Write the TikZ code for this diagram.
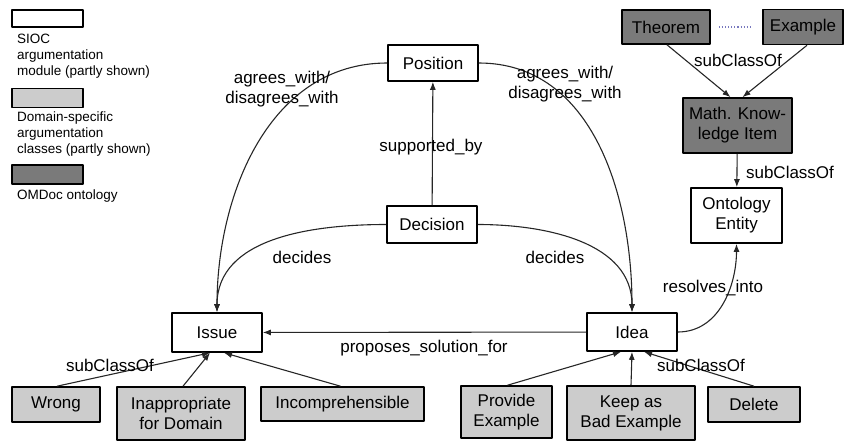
\documentclass[tikz,border=0pt]{standalone}
\usepackage{fontspec}
\setmainfont{Liberation Sans}
\usetikzlibrary{arrows.meta}
\definecolor{domgrey}{RGB}{204,204,204}
\definecolor{omdgrey}{RGB}{122,122,122}
\definecolor{dotblue}{RGB}{120,120,190}
\begin{document}
\begin{tikzpicture}[>={Latex[length=8pt, width=6pt]}, x=1pt, y=-1pt, line join=round,
    font=\fontsize{17}{20}\selectfont,
    sz/.style 2 args={minimum width=#1pt, minimum height=#2pt},
    box/.style={draw, line width=1.6pt, fill=white, align=center, inner sep=0pt},
    dom/.style={box, fill=domgrey},
    omd/.style={box, fill=omdgrey},
    rel/.style={draw=black!85, line width=1.1pt},
    lbl/.style={inner sep=0pt, align=center},
    legtxt/.style={inner sep=0pt, align=left, anchor=west, font=\fontsize{13.5}{16}\selectfont}]
    \useasboundingbox (0,0) rectangle (845,442);
    % legend
    \node[box, sz={71}{17}] (legsioc) at (47.5,18.5) {};
    \node[legtxt] (legsioctxt) at (17,56) {SIOC\\argumentation\\module (partly shown)};
    \node[dom, sz={71}{19}] (legdom) at (47.5,98) {};
    \node[legtxt] (legdomtxt) at (17,134) {Domain-specific\\argumentation\\classes (partly shown)};
    \node[omd, sz={71}{19}] (legomd) at (47.5,174.5) {};
    \node[legtxt] (legomdtxt) at (17,196) {OMDoc ontology};
    % argumentation classes
    \node[box, sz={90}{36}] (position) at (433,63) {Position};
    \node[box, sz={90}{37}] (decision) at (432,224.5) {Decision};
    \node[box, sz={90}{39}] (issue) at (217,332.5) {Issue};
    \node[box, sz={90}{38}] (idea) at (632,332) {Idea};
    % OMDoc classes
    \node[omd, sz={88}{34}] (theorem) at (666,27) {Theorem};
    \node[omd, sz={80}{35}] (example) at (803,27) {Example};
    \node[omd, sz={109}{55}] (mki) at (737.5,125.5) {Math. Know-\\ledge Item};
    \node[box, sz={91}{55}] (entity) at (736.5,215.5) {Ontology\\Entity};
    % domain-specific classes
    \node[dom, sz={88}{35}] (wrong) at (56,404.5) {Wrong};
    \node[dom, sz={128}{53}] (inapp) at (181,413.5) {Inappropriate\\for Domain};
    \node[dom, sz={163}{34}] (incomp) at (342.5,404) {Incomprehensible};
    \node[dom, sz={91}{52}] (provide) at (506.5,412) {Provide\\Example};
    \node[dom, sz={128}{54}] (keep) at (631,413) {Keep as\\Bad Example};
    \node[dom, sz={92}{35}] (delete) at (754,404.5) {Delete};
    % relations
    \draw[rel, ->] (decision) -- (position);
    \draw[rel, ->] (position.west) to[out=180, in=90] (issue.north);
    \draw[rel, ->] (position.east) to[out=0, in=90] (idea.north);
    \draw[rel, ->] (decision.west) to[out=180, in=90] (issue.north);
    \draw[rel, ->] (decision.east) to[out=0, in=90] (idea.north);
    \draw[rel, ->] (idea) -- (issue);
    \draw[rel, ->] (idea.east) to[out=0, in=-90] (entity.south);
    \draw[rel, dotted, draw=dotblue] ([xshift=8pt]theorem.east) -- ([xshift=-10pt]example.west);
    \draw[rel, ->] ([xshift=1pt]theorem.south) -- ([xshift=-7pt]mki.north);
    \draw[rel, ->] ([xshift=4pt]example.south) -- ([xshift=5pt]mki.north);
    \draw[rel, ->] (mki) -- (entity);
    \draw[rel, ->] ([xshift=1pt]wrong.north) -- ([xshift=-7pt]issue.south);
    \draw[rel, ->] ([xshift=2pt]inapp.north) -- ([xshift=-7pt]issue.south);
    \draw[rel, ->] ([xshift=-2pt]incomp.north) -- ([xshift=7pt]issue.south);
    \draw[rel, ->] ([xshift=1pt]provide.north) -- ([xshift=-11pt]idea.south);
    \draw[rel, ->] (keep.north) -- (idea.south);
    \draw[rel, ->] (delete.north) -- ([xshift=12pt]idea.south);
    % labels
    \node[lbl] (lblsup) at (431,147) {supported\_by};
    \node[lbl] (lblagl) at (282,89) {agrees\_with/\\disagrees\_with};
    \node[lbl] (lblagr) at (565,84) {agrees\_with/\\disagrees\_with};
    \node[lbl] (lbldecl) at (302,257) {decides};
    \node[lbl] (lbldecr) at (555,257) {decides};
    \node[lbl] (lblprop) at (424,348) {proposes\_solution\_for};
    \node[lbl] (lblres) at (713,288) {resolves\_into};
    \node[lbl] (lblsubt) at (738,60) {subClassOf};
    \node[lbl] (lblsubm) at (790,172) {subClassOf};
    \node[lbl] (lblsubi) at (110,365) {subClassOf};
    \node[lbl] (lblsubd) at (701,365) {subClassOf};
\end{tikzpicture}
\end{document}
